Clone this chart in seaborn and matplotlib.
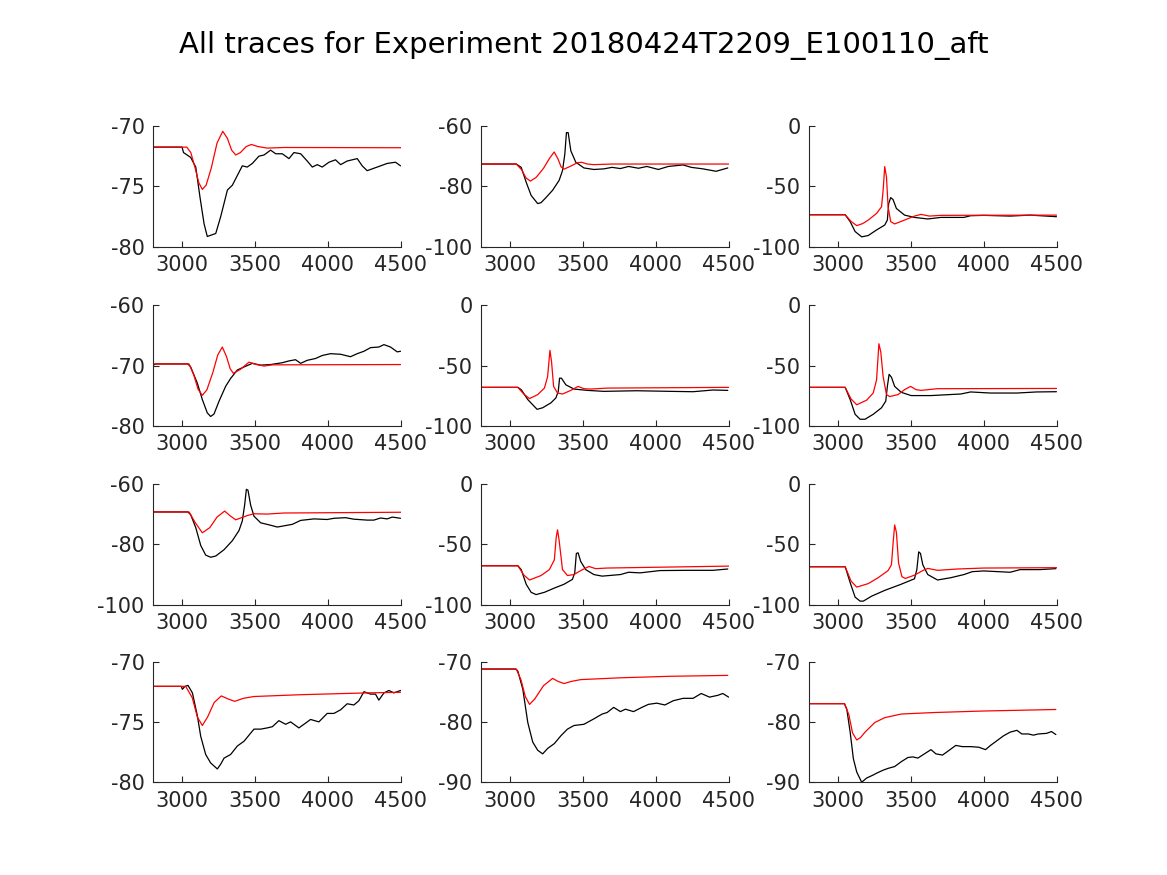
import matplotlib
matplotlib.use("Agg")
import matplotlib.pyplot as plt
import seaborn as sns
import pandas as pd

TITLE = "All traces for Experiment 20180424T2209_E100110_aft"
X_TICKS = [3000, 3500, 4000, 4500]
X_LIM = (2800, 4500)

Y_LIMS = [(-80, -70), (-100, -60), (-100, 0),
          (-80, -60), (-100, 0), (-100, 0),
          (-100, -60), (-100, 0), (-100, 0),
          (-80, -70), (-90, -70), (-90, -70)]
Y_TICKS = [[-80, -75, -70], [-100, -80, -60], [-100, -50, 0],
           [-80, -70, -60], [-100, -50, 0], [-100, -50, 0],
           [-100, -80, -60], [-100, -50, 0], [-100, -50, 0],
           [-80, -75, -70], [-90, -80, -70], [-90, -80, -70]]

# ---- panel 1 ----
p1_black = [(2800, -71.75), (3000, -71.75), (3010, -72.2), (3059, -72.6), (3094, -73.4), (3123, -75.9),
            (3151, -78.1), (3173, -79.15), (3208, -79.0), (3231, -78.9), (3265, -77.5), (3311, -75.3),
            (3345, -74.9), (3379, -74.1), (3413, -73.3), (3447, -73.4), (3482, -73.1), (3527, -72.5),
            (3562, -72.4), (3607, -72.0), (3642, -72.3), (3687, -72.3), (3733, -72.7), (3767, -72.2),
            (3813, -72.3), (3858, -72.9), (3893, -73.4), (3927, -73.2), (3961, -73.4), (4007, -73.0),
            (4052, -72.8), (4087, -73.2), (4132, -72.9), (4201, -72.7), (4235, -73.3), (4269, -73.7),
            (4315, -73.5), (4361, -73.3), (4406, -73.1), (4463, -73.0), (4498, -73.3)]
p1_red = [(2800, -71.75), (3032, -71.75), (3060, -72.2), (3090, -73.5), (3115, -74.7), (3139, -75.25),
          (3165, -74.9), (3200, -73.5), (3240, -71.4), (3279, -70.44), (3310, -71.0), (3340, -72.0),
          (3368, -72.4), (3400, -72.2), (3440, -71.7), (3475, -71.53), (3520, -71.7), (3584, -71.83),
          (3700, -71.78), (4500, -71.8)]

# ---- panel 2 ----
p2_black = [(2800, -72.6), (3043, -72.6), (3077, -73.7), (3111, -78.6), (3145, -83.0), (3190, -85.7),
            (3213, -85.4), (3247, -83.7), (3292, -81.3), (3337, -78.0), (3360, -74.8), (3376, -69.3),
            (3387, -62.2), (3399, -62.2), (3417, -68.2), (3451, -72.0), (3507, -73.9), (3575, -74.4),
            (3643, -74.2), (3700, -73.7), (3757, -74.1), (3813, -73.4), (3881, -74.0), (3938, -73.4),
            (4017, -74.4), (4085, -73.4), (4187, -72.9), (4243, -73.7), (4323, -74.2), (4413, -75.0),
            (4493, -73.9)]
p2_red = [(2800, -72.6), (3043, -72.6), (3080, -74.5), (3110, -77.2), (3140, -78.25), (3180, -77.0),
          (3230, -74.0), (3270, -70.8), (3303, -68.6), (3330, -71.0), (3350, -73.5), (3371, -74.3),
          (3420, -73.2), (3460, -72.2), (3489, -72.0), (3530, -72.6), (3575, -72.8), (3700, -72.6),
          (4500, -72.6)]

# ---- panel 3 ----
p3_black = [(2800, -73.5), (3050, -73.5), (3084, -79.2), (3118, -87.4), (3163, -91.8), (3208, -90.7),
            (3265, -86.1), (3321, -82.0), (3339, -77.9), (3348, -64.2), (3362, -59.3), (3378, -60.9),
            (3401, -68.3), (3457, -73.8), (3525, -75.7), (3616, -77.0), (3706, -75.7), (3864, -75.7),
            (3910, -74.3), (4000, -74.0), (4181, -74.6), (4317, -73.8), (4498, -75.1)]
p3_red = [(2800, -73.5), (3050, -73.5), (3090, -79.0), (3129, -82.5), (3170, -80.8), (3208, -77.9),
          (3265, -72.4), (3299, -66.9), (3310, -53.3), (3321, -33.6), (3333, -42.3), (3344, -66.9),
          (3362, -79.2), (3389, -81.1), (3457, -77.9), (3525, -74.6), (3570, -73.2), (3627, -74.6),
          (3706, -74.0), (4500, -73.8)]

# ---- panel 4 ----
p4_black = [(2800, -69.9), (2820, -69.7), (3040, -69.7), (3059, -70.2), (3105, -72.9), (3139, -75.6),
            (3173, -77.8), (3196, -78.4), (3219, -78.0), (3253, -75.9), (3299, -73.4), (3333, -72.1),
            (3379, -70.7), (3425, -70.2), (3482, -69.6), (3539, -69.9), (3607, -69.8), (3687, -69.5),
            (3733, -69.2), (3778, -69.0), (3813, -69.6), (3858, -69.1), (3915, -68.8), (3961, -68.3),
            (4018, -68.0), (4087, -68.1), (4155, -68.5), (4201, -68.0), (4247, -67.6), (4292, -67.0),
            (4349, -66.9), (4384, -66.5), (4429, -66.9), (4475, -67.7), (4498, -67.6)]
p4_red = [(2800, -69.7), (3048, -69.7), (3080, -71.5), (3110, -73.9), (3139, -74.9), (3170, -74.0),
          (3210, -71.2), (3245, -68.2), (3276, -66.9), (3305, -68.5), (3330, -70.5), (3352, -71.25),
          (3400, -70.6), (3459, -69.4), (3510, -69.8), (3562, -70.05), (3620, -69.85), (4500, -69.8)]

# ---- panel 5 ----
p5_black = [(2800, -67.9), (3054, -67.9), (3077, -69.8), (3122, -78.0), (3186, -86.1), (3224, -84.8),
            (3281, -80.7), (3315, -76.6), (3331, -71.2), (3340, -60.3), (3353, -60.3), (3383, -65.8),
            (3439, -69.3), (3530, -70.4), (3643, -71.2), (3870, -70.7), (4096, -71.2), (4255, -71.5),
            (4391, -70.1), (4493, -70.4)]
p5_red = [(2800, -67.9), (3054, -67.9), (3095, -73.5), (3134, -77.2), (3190, -73.9), (3236, -68.5),
          (3258, -59.0), (3274, -37.2), (3285, -46.7), (3299, -67.1), (3326, -72.6), (3360, -73.4),
          (3417, -70.4), (3467, -67.1), (3507, -69.0), (3553, -69.3), (3666, -68.5), (4500, -67.9)]

# ---- panel 6 ----
p6_black = [(2800, -67.9), (3050, -67.9), (3084, -78.0), (3118, -90.2), (3152, -94.3), (3186, -94.3),
            (3242, -90.2), (3299, -84.8), (3328, -79.3), (3339, -67.1), (3351, -57.1), (3367, -59.5),
            (3389, -67.1), (3434, -72.0), (3502, -74.7), (3638, -74.7), (3842, -73.4), (3910, -71.7),
            (4046, -72.6), (4227, -72.6), (4362, -71.7), (4498, -71.5)]
p6_red = [(2800, -67.9), (3050, -67.9), (3090, -77.5), (3129, -82.3), (3197, -78.5), (3242, -72.6),
          (3265, -61.7), (3281, -31.8), (3294, -38.6), (3310, -59.0), (3333, -73.9), (3355, -75.5),
          (3412, -73.9), (3457, -69.8), (3498, -67.1), (3536, -69.8), (3570, -70.4), (3683, -69.0),
          (4500, -68.8)]

# ---- panel 7 ----
p7_black = [(2800, -69.3), (3040, -69.3), (3059, -70.2), (3094, -74.5), (3128, -80.4), (3162, -83.6),
            (3196, -84.3), (3231, -83.9), (3288, -81.8), (3345, -78.8), (3390, -75.5), (3413, -72.3),
            (3429, -67.0), (3441, -61.8), (3452, -62.1), (3470, -67.0), (3493, -70.7), (3539, -72.9),
            (3607, -73.7), (3653, -74.3), (3699, -73.9), (3756, -73.4), (3813, -72.1), (3904, -71.6),
            (3995, -71.8), (4041, -71.4), (4121, -71.2), (4178, -71.7), (4269, -72.0), (4315, -72.0),
            (4361, -71.3), (4406, -71.6), (4441, -71.0), (4498, -71.4)]
p7_red = [(2800, -69.3), (3048, -69.3), (3090, -72.8), (3139, -76.2), (3190, -74.5), (3240, -71.0),
          (3292, -69.0), (3330, -70.6), (3368, -71.9), (3447, -70.5), (3493, -69.9), (3584, -70.0),
          (3699, -69.65), (4500, -69.4)]

# ---- panel 8 ----
p8_black = [(2800, -67.8), (3054, -67.8), (3077, -71.0), (3111, -83.1), (3145, -89.8), (3179, -91.7),
            (3236, -89.8), (3304, -86.3), (3371, -83.1), (3428, -79.1), (3444, -73.7), (3455, -57.6),
            (3467, -57.1), (3485, -64.3), (3519, -71.0), (3575, -75.1), (3632, -76.4), (3757, -75.1),
            (3813, -73.2), (3892, -73.7), (4028, -71.8), (4210, -71.6), (4391, -71.6), (4493, -70.5)]
p8_red = [(2800, -67.8), (3054, -67.8), (3095, -75.5), (3134, -79.6), (3213, -75.9), (3270, -71.0),
          (3304, -63.0), (3317, -44.2), (3326, -38.1), (3337, -46.9), (3360, -71.0), (3394, -75.9),
          (3439, -75.1), (3485, -71.8), (3541, -68.4), (3587, -70.2), (3666, -69.7), (4500, -68.1)]

# ---- panel 9 ----
p9_black = [(2800, -68.6), (3050, -68.6), (3084, -81.8), (3118, -93.8), (3152, -97.1), (3174, -97.1),
            (3231, -93.0), (3321, -88.2), (3434, -83.1), (3525, -78.6), (3541, -71.0), (3554, -56.3),
            (3566, -57.6), (3582, -67.0), (3616, -75.1), (3683, -79.6), (3774, -77.7), (3864, -75.1),
            (3921, -72.7), (4000, -72.1), (4181, -73.2), (4249, -71.0), (4385, -71.0), (4494, -70.2)]
p9_red = [(2800, -68.6), (3050, -68.6), (3090, -80.5), (3129, -85.5), (3208, -82.6), (3276, -77.7),
          (3344, -71.8), (3367, -67.0), (3378, -49.6), (3389, -34.0), (3401, -40.2), (3416, -65.7),
          (3439, -76.9), (3462, -78.3), (3525, -75.6), (3582, -71.8), (3616, -70.0), (3683, -71.6),
          (3819, -70.5), (4000, -69.7), (4500, -69.4)]

# ---- panel 10 ----
p10_black = [(2800, -72.06), (2995, -72.06), (3002, -72.3), (3020, -72.06), (3041, -71.98), (3071, -72.6),
             (3105, -74.5), (3128, -76.2), (3162, -77.7), (3196, -78.4), (3242, -78.9), (3265, -78.5),
             (3288, -78.0), (3333, -77.7), (3379, -77.0), (3425, -76.6), (3459, -76.1), (3493, -75.6),
             (3539, -75.6), (3584, -75.5), (3619, -75.4), (3664, -74.9), (3710, -75.2), (3744, -75.0),
             (3801, -75.5), (3847, -75.1), (3881, -74.8), (3938, -75.0), (3995, -74.3), (4041, -74.3),
             (4087, -74.0), (4132, -73.5), (4178, -73.6), (4212, -73.25), (4247, -72.5), (4292, -72.7),
             (4326, -72.7), (4349, -73.2), (4384, -72.6), (4418, -72.4), (4452, -72.6), (4498, -72.4)]
p10_red = [(2800, -72.06), (3025, -72.06), (3070, -73.0), (3105, -74.6), (3139, -75.3), (3175, -74.6),
           (3220, -73.4), (3269, -72.85), (3315, -73.1), (3361, -73.3), (3420, -73.05), (3493, -72.9),
           (3813, -72.75), (4269, -72.6), (4498, -72.55)]

# ---- panel 11 ----
p11_black = [(2800, -71.25), (3040, -71.25), (3054, -71.6), (3088, -74.6), (3122, -80.1), (3156, -83.35),
             (3190, -84.7), (3224, -85.3), (3258, -84.4), (3304, -83.6), (3349, -82.3), (3394, -81.2),
             (3439, -80.6), (3507, -80.4), (3575, -79.5), (3632, -78.7), (3666, -78.45), (3711, -77.6),
             (3757, -78.3), (3791, -77.9), (3847, -78.3), (3904, -77.6), (3949, -77.1), (4006, -76.9),
             (4062, -77.2), (4119, -76.5), (4187, -76.1), (4255, -76.1), (4311, -75.3), (4368, -75.9),
             (4425, -75.6), (4459, -75.3), (4499, -75.9)]
p11_red = [(2800, -71.25), (3043, -71.25), (3075, -73.0), (3105, -75.8), (3134, -77.1), (3170, -76.2),
           (3230, -74.0), (3292, -72.8), (3330, -73.3), (3371, -73.65), (3420, -73.3), (3485, -73.0),
           (3757, -72.7), (4096, -72.45), (4493, -72.3)]

# ---- panel 12 ----
p12_black = [(2800, -76.98), (3045, -76.98), (3061, -77.9), (3084, -81.7), (3106, -86.1), (3129, -88.3),
             (3163, -90.0), (3197, -89.3), (3242, -88.8), (3265, -88.5), (3310, -88.0), (3344, -87.7),
             (3389, -87.4), (3434, -86.6), (3480, -85.9), (3514, -85.8), (3548, -86.0), (3593, -85.3),
             (3638, -84.6), (3672, -85.3), (3717, -85.5), (3763, -84.7), (3808, -83.9), (3853, -84.1),
             (3910, -84.1), (3966, -84.2), (4012, -84.6), (4046, -83.9), (4091, -83.1), (4136, -82.3),
             (4181, -81.7), (4227, -81.4), (4261, -82.0), (4306, -82.0), (4340, -82.2), (4374, -82.0),
             (4431, -81.9), (4464, -81.6), (4494, -82.1)]
p12_red = [(2800, -76.98), (3045, -76.98), (3075, -78.8), (3100, -81.8), (3129, -83.0), (3155, -82.6),
           (3186, -81.7), (3253, -80.1), (3321, -79.3), (3434, -78.7), (3661, -78.45), (4000, -78.2),
           (4494, -77.95)]

BLACK_TRACES = [p1_black, p2_black, p3_black, p4_black, p5_black, p6_black,
                p7_black, p8_black, p9_black, p10_black, p11_black, p12_black]
RED_TRACES = [p1_red, p2_red, p3_red, p4_red, p5_red, p6_red,
              p7_red, p8_red, p9_red, p10_red, p11_red, p12_red]

sns.set_theme(style="ticks")
plt.rcParams["font.family"] = ["DejaVu Sans"]
plt.rcParams["xtick.direction"] = "in"
plt.rcParams["ytick.direction"] = "in"

fig = plt.figure(figsize=(11.67, 8.75), dpi=100)

lefts = [0.131, 0.412, 0.693]
bottoms = [0.718, 0.513, 0.309, 0.106]
W, H = 0.2125, 0.138

for i in range(12):
    r, c = divmod(i, 3)
    ax = fig.add_axes([lefts[c], bottoms[r], W, H])
    bdf = pd.DataFrame(BLACK_TRACES[i], columns=["t", "v"])
    rdf = pd.DataFrame(RED_TRACES[i], columns=["t", "v"])
    sns.lineplot(data=bdf, x="t", y="v", ax=ax, color="black", linewidth=0.9, sort=False)
    sns.lineplot(data=rdf, x="t", y="v", ax=ax, color="red", linewidth=0.9, sort=False)
    ax.set_xlim(*X_LIM)
    ax.set_ylim(*Y_LIMS[i])
    ax.set_xticks(X_TICKS)
    ax.set_yticks(Y_TICKS[i])
    ax.set_xticklabels([str(t) for t in X_TICKS])
    ax.set_yticklabels([str(t) for t in Y_TICKS[i]])
    ax.set_xlabel("")
    ax.set_ylabel("")
    ax.tick_params(axis="both", labelsize=15, length=4, width=0.8, colors="#262626", pad=6)
    for s in ["left", "bottom"]:
        ax.spines[s].set_linewidth(0.8)
        ax.spines[s].set_color("#262626")
    sns.despine(ax=ax)

fig.text(0.5, 0.948, TITLE, ha="center", va="center", fontsize=21, color="black")

fig.savefig("out.png", dpi=100)
